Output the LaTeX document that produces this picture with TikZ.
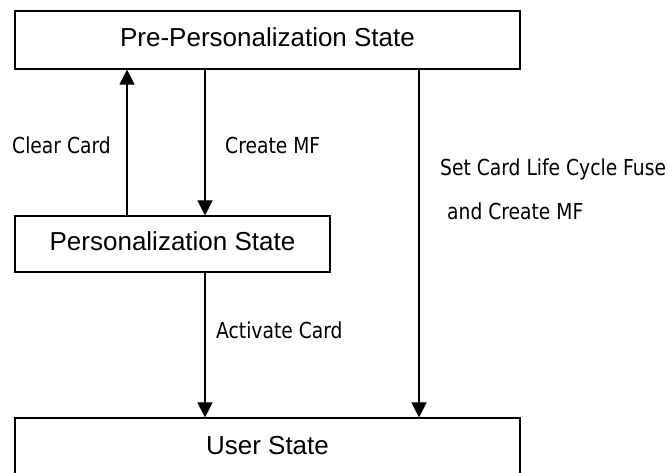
\documentclass[tikz,border=0pt]{standalone}
\usepackage{fontspec}
\usetikzlibrary{arrows.meta}
\newfontfamily\boxfont{Liberation Sans}
\newfontfamily\lblfont[FakeStretch=0.85]{DejaVu Sans}

\begin{document}
\begin{tikzpicture}[x=1pt, y=-1pt,
        state/.style={draw, line width=1.2pt, inner sep=0pt, text depth=6pt, font=\boxfont\fontsize{26}{30}\selectfont},
        lbl/.style={anchor=base west, inner sep=0pt, font=\lblfont\fontsize{22}{26}\selectfont},
        flow/.style={line width=1.1pt, -{Triangle[width=15pt, length=15pt]}}]
        \useasboundingbox (0, 0) rectangle (668, 472);

        \node (pre) at (267.5, 40) [state, minimum width=505pt, minimum height=58pt] {Pre-Personalization State};
        \node (pers) at (172.5, 244) [state, minimum width=315pt, minimum height=56pt] {Personalization State};
        \node (user) at (267.5, 448) [state, minimum width=505pt, minimum height=60pt] {User State};

        \coordinate (c1) at (127, 0);
        \coordinate (c2) at (205, 0);
        \coordinate (c3) at (419, 0);

        \draw [flow] (pers.north -| c1) -- (pre.south -| c1);
        \draw [flow] (pre.south -| c2) -- (pers.north -| c2);
        \draw [flow] (pers.south -| c2) -- (user.north -| c2);
        \draw [flow] (pre.south -| c3) -- (user.north -| c3);

        \node (clear) at (12, 153.3) [lbl] {Clear Card};
        \node (create) at (225, 153.3) [lbl] {Create MF};
        \node (fuse) at (440, 175) [lbl] {Set Card Life Cycle Fuse};
        \node (fuse2) at (447, 219.3) [lbl] {and Create MF};
        \node (activate) at (216, 338.3) [lbl] {Activate Card};
    \end{tikzpicture}
\end{document}
